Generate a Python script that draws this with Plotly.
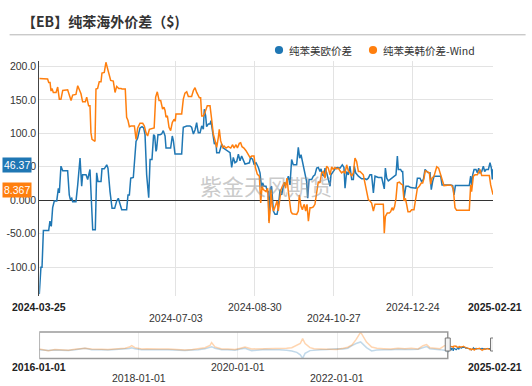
import pandas as pd
import plotly.graph_objects as go

W, H = 532, 386

# ---------------- data ----------------
title_text = "【EB】纯苯海外价差（$)"
name_eu = "纯苯美欧价差"
name_kr = "纯苯美韩价差-Wind"
watermark = "紫金天风期货"
start_date = "2024-03-25"
end_date = "2025-02-21"
hist_start = "2016-01-01"

# main window: days since 2024-03-25 and values
eu_days = [0, 1.2, 2, 3, 6.9, 7.8, 8.8, 9.8, 11, 12.8, 14, 14.7, 15.9, 17.2, 20.8, 22, 22.8, 23.8, 24.5, 26.9,
           28.2, 29.9, 31.1, 31.8, 34.3, 35.5, 37.2, 37.9, 38.7, 39.2, 41.1, 42.1, 43.1, 45.3, 46, 47.7, 49.5, 50.4,
           51.9, 53.4, 55.3, 56.8, 58, 59.2, 60.5, 64.1, 65.1, 66.1, 67.1, 69, 70.2, 71, 72.2, 73.9, 75.4, 76.6,
           77.6, 78.8, 80.3, 81.3, 82.7, 83.9, 84.7, 85.65, 86.1, 87.1, 88.6, 89.8, 91, 92.3, 93, 96.4, 97.6, 98.4,
           99.6, 104.5, 105.2, 105.7, 108.2, 110.6, 111.8, 113.1, 114.3, 115.5, 116, 116.7, 118, 119.2, 120.4,
           121.1, 122.1, 122.8, 124.1, 125.3, 126, 127, 127.7, 128.5, 129.7, 130.2, 132.1, 133.1, 133.9, 135.1,
           136.3, 138, 140, 141.2, 142.4, 143.6, 144.9, 146.1, 147.3, 148.5, 149.8, 151, 154.2, 155.1, 156.6,
           157.6, 159.1, 160.8, 162, 163.2, 163.9, 164.9, 166.4, 167.4, 168.1, 168.6, 169.6, 170.5, 171.8, 173,
           174.5, 175.4, 176.7, 177.9, 179.1, 180.3, 181.6, 182.8, 184, 185.2, 186.4, 188.9, 190.1, 191.1, 192.1,
           193.1, 194, 195, 196.2, 197, 198, 199.9, 201.1, 202.3, 203.6, 204.8, 206, 206.8, 207.7, 209, 209.7,
           210.9, 212.1, 213.4, 214.1, 215.8, 217.5, 219, 220.7, 222.4, 223.6, 224.4, 225.6, 226.8, 228, 229.3,
           230.5, 231.2, 232.2, 234.2, 236.6, 239, 240.3, 241.5, 242.7, 243.9, 245.2, 246.4, 248.8, 251.3, 253.2,
           254, 255, 256.2, 257.9, 259.4, 260.3, 261.8, 262.8, 263.5, 265.2, 266, 266.7, 267.7, 269.1, 270.9,
           272.6, 274.5, 276.5, 277.5, 279.4, 280.6, 281.9, 283.1, 284.3, 285.5, 286.8, 287.7, 288.7, 289.7,
           294.6, 295.6, 301.9, 303.4, 304.4, 305.4, 315.6, 316.6, 317.3, 318.1, 319.1, 320.5, 321.5, 322.5,
           323.5, 324.7, 325.9, 326.9, 327.9, 329.6, 330.8, 331.8, 332.5, 333]
eu_vals = [-140, -100, -100, -45, -45, -31, -39, -11, -1, -1, 18, 11, 51, 44, 44, 8, 1, 3, -2, -2,
           23, 63, 21, 38, 38, 31, 46, 13, -1, -44, -44, 41, 28, 28, 47, 47, 53, 48,
           13, -12, -12, -1, 3, -6, -14, -14, 8, 8, 33, 34, 73, 88, 93, 108, 110, 108,
           98, 38, 4, 61, 61, 98, 96, 73, 76, 98, 98, 99, 104, 96, 78, 78, 96, 89,
           69, 69, 94, 109, 111, 111, 109, 99, 105, 116, 109, 101, 101, 111, 106,
           136, 126, 110, 114, 114, 119, 106, 99, 84, 86, 71, 71, 81, 84, 78,
           76, 74, 71, 49, 64, 56, 58, 69, 59, 66, 61, 54, 56, 64, 61,
           54, 56, 49, 41, 18, 26, 21, 21, 13, 13, -31, 18, 21, -16, -21,
           -21, -11, 16, 8, 21, 23, 28, 36, 23, 61, 53, 53, 79, 63, 68,
           58, 54, 41, 28, 3, 31, 31, 36, 38, 48, 49, 43, 47, 38, 36, 48,
           41, 33, 21, 38, 43, 48, 49, 48, 53, 49, 18, 43, 38, 51, 31,
           31, 51, 41, 36, 32, 32, 31, 33, 38, 38, 11, 36, 34, 34, 17,
           48, 33, 29, 32, 34, 36, 38, 66, 46, 46, 43, 43, 3, 21, 21,
           19, 18, 18, 33, 33, 28, 31, 46, 43, 41, 41, 16, 28, 36,
           36, 23, 23, 22, 8, 22, 22, 36, 23, 38, 46, 46, 41, 48,
           41, 43, 51, 43, 46, 46, 56, 48, 31, 46.37]

kr_days = [0, 6.1, 6.9, 7.9, 8.6, 9.3, 10.3, 12.3, 13.5, 14.7, 15.9, 17.2, 20.8, 22, 23.3, 24.5, 26.9, 28.2,
           29.4, 30.6, 31.8, 33.8, 34.8, 36.2, 37.2, 37.9, 38.7, 40.9, 41.6, 42.8, 44, 45.3, 46, 47.7, 48.9,
           49.9, 50.9, 52.4, 54.3, 55.6, 56.8, 58.3, 60, 60.7, 63.1, 64.1, 65.1, 66.1, 67.3, 69.8, 71, 72.2,
           73.9, 75.9, 77.1, 78.3, 79.5, 80.8, 84.3, 85.4, 86.6, 87.9, 89.1, 90.5, 91.5, 92.3, 93, 94, 95.2,
           96.4, 97.6, 98.9, 99.8, 100.3, 104.5, 105.7, 106.9, 108.2, 109.4, 111.8, 113.1, 114.3, 115.5,
           117.5, 118.4, 119.2, 120.4, 121.6, 123.3, 125.3, 126.5, 127.7, 128.9, 130.2, 131.4, 132.1, 133.1,
           134.6, 135.6, 137, 138.7, 140.5, 141.9, 142.9, 144.4, 145.4, 146.8, 147.8, 148.8, 150.2, 151.7,
           153.4, 154.6, 155.9, 157.6, 158.6, 160, 161.5, 162.5, 163.5, 164.4, 166.4, 167.6, 168.6, 169.6,
           170, 171, 172, 173, 174.5, 175.4, 176.4, 177.4, 178.4, 179.8, 180.8, 181.8, 182.8, 183.8, 184.7,
           185.7, 188.9, 190.1, 190.8, 192.1, 193.1, 193.8, 194.5, 195.5, 196.5, 197.5, 198.7, 199.9, 201.1,
           202.3, 203.6, 204.8, 206, 207.2, 208.5, 209.7, 210.9, 212.1, 213.4, 214.6, 215.8, 217, 218.3,
           219.5, 220.7, 221.9, 223.1, 224.4, 225.6, 226.8, 228, 229.3, 230.5, 231.7, 232.9, 234.2, 235.4,
           236.6, 237.8, 239, 240.3, 241.5, 242.7, 243.9, 245.2, 246.4, 252.5, 253.2, 254, 255.4, 256.9,
           257.9, 258.9, 259.8, 260.8, 261.8, 262.8, 264.3, 265.7, 266.7, 267.7, 268.7, 269.6, 270.6, 272.1,
           273.3, 275, 276.2, 277.5, 278.9, 280.4, 281.4, 282.4, 283.3, 284.8, 286.3, 287.2, 288.2, 289.7,
           290.4, 291.7, 293.1, 294.1, 295.1, 296.1, 297, 301.4, 302.7, 303.9, 305.1, 306.3, 315.6, 316.6,
           317.3, 318.6, 319.8, 321.5, 322.5, 323.5, 324.7, 330.3, 331.3, 332.3, 333]
kr_vals = [182, 181, 176, 176, 163, 167, 161, 161, 169, 151, 151, 164, 165, 157, 149, 157, 158, 171,
           164, 159, 147, 147, 154, 141, 141, 101, 91, 88, 166, 167, 177, 177, 190, 191, 206,
           199, 189, 179, 178, 161, 170, 167, 167, 166, 166, 124, 119, 110, 111, 111, 91, 108,
           115, 115, 111, 101, 96, 106, 108, 154, 162, 149, 149, 136, 139, 134, 124, 126, 109,
           104, 116, 121, 118, 129, 129, 151, 160, 162, 155, 155, 164, 168, 161,
           153, 153, 126, 126, 131, 141, 141, 121, 99, 90, 79, 94, 106, 89,
           79, 81, 78, 80, 78, 83, 78, 83, 78, 85, 86, 80, 78, 74,
           69, 64, 66, 66, 49, 39, 36, -4, 21, 16, 13, 18, -34, -11,
           16, -9, -16, -11, -1, -16, 3, 16, 21, 27, 18, 33, 13, -6, -17,
           -20, -21, -16, 8, -9, -14, -9, -6, -16, -6, -31, -11, -11, -10,
           -6, 11, 28, 26, 41, 43, 33, 51, 48, 38, 50, 46, 49, 47,
           48, 44, 41, 43, 41, 53, 44, 41, 36, 41, 63, 58, 43, 43,
           41, 38, 26, 13, 1, -1, -4, -16, -6, -6, -49, -24, -19, -19,
           -17, -11, -15, -9, 3, 26, 27, 24, 23, -1, 3, -6, -17, -17,
           -14, -14, -1, 18, 21, 26, 26, 33, 44, 43, 41, 24, 33, 36,
           41, 50, 48, 41, 33, 26, 22, 23, 22, 16, -11, -15, -15, 23,
           13, 36, 38, 38, 43, 46, 37, 37, 23, 12, 8.367]

# full history (navigator)
hist_dates = ["2016-01-01", "2016-02-10", "2016-03-07", "2016-04-25", "2016-06-15", "2016-08-02", "2016-09-20",
              "2016-11-01", "2016-12-02", "2017-01-20", "2017-03-01", "2017-04-04", "2017-05-20", "2017-07-11",
              "2017-08-20", "2017-09-23", "2017-10-25", "2017-11-11", "2017-12-05", "2018-01-23", "2018-03-01",
              "2018-04-07", "2018-06-01", "2018-08-07", "2018-10-15", "2018-12-08", "2019-02-01", "2019-03-16",
              "2019-05-04", "2019-06-10", "2019-06-22", "2019-07-17", "2019-09-04", "2019-10-20", "2019-12-11",
              "2020-01-20", "2020-02-23", "2020-04-12", "2020-06-12", "2020-07-19", "2020-09-15", "2020-11-01",
              "2020-12-25", "2021-02-01", "2021-03-10", "2021-04-05", "2021-04-22", "2021-05-10", "2021-06-15",
              "2021-07-15", "2021-09-01", "2021-10-20", "2021-12-28", "2022-02-15", "2022-03-20", "2022-04-20",
              "2022-05-20", "2022-06-23", "2022-07-12", "2022-08-05", "2022-09-12", "2022-10-20", "2022-12-10",
              "2023-02-01", "2023-03-25", "2023-05-15", "2023-07-01", "2023-08-20", "2023-09-25", "2023-10-21",
              "2023-11-14", "2023-12-20", "2024-01-28", "2024-03-01", "2024-03-25"]
hist_kr = [25, -20, -60, 0, -20, -35, 10, 30, 65, 20, 30, 15, 0, 25, 40, 65, 120, 190, 90, 25, 30,
           15, 20, 25, 0, -25, 0, 25, 90, 200, 350, 125, 25, 20, 0, 60, 125, 25, 25, 60, 25, 40,
           60, 90, 200, 310, 550, 300, 90, 40, 25, 30, 0, 60, 110, 225, 500, 875, 625, 375, 125, 60, 40,
           25, 60, 40, 60, 25, 190, 250, 90, 60, 40, 190, 182]
hist_eu = [-20, -40, -60, -30, -45, -50, -20, 10, 60, -10, 0, -20, -30, -10, 0, 20, 50, 80, 30, -20, -10,
           -25, -20, -10, -40, -60, -30, -20, 30, 90, 140, 60, -10, -20, -40, 20, 60, -60, -25, 0, -20, -10,
           -40, -75, -150, -275, -450, -200, -60, -30, -20, 0, 40, 20, 60, 190, 300, 380, 250, 90, -75, -30, -10,
           -20, 10, -10, 0, 15, 90, 150, 40, 0, -10, -40, -140]

main_ticks = ["2024-07-03", "2024-08-30", "2024-10-27", "2024-12-24"]
nav_ticks = ["2018-01-01", "2020-01-01", "2022-01-01"]
y_ticks = [-100, -50, 0, 50, 100, 150, 200]
y_ticktext = ["-100.0", "-50.00", "0.000", "50.00", "100.0", "150.0", "200.0"]

# ---------------- styling ----------------
BLUE = "#1f77b4"
ORANGE = "#ff7f0e"
FONT = "Liberation Sans, Arial, sans-serif"
CJK = "Noto Sans CJK SC, sans-serif"


def px(x):
    return x / W


def py(y):
    return 1 - y / H


t0 = pd.Timestamp(start_date)
eu_x = t0 + pd.to_timedelta(eu_days, unit="D")
kr_x = t0 + pd.to_timedelta(kr_days, unit="D")
hx = pd.to_datetime(hist_dates)

fig = go.Figure()
# main chart
fig.add_trace(go.Scatter(x=eu_x, y=eu_vals, mode="lines", line=dict(color=BLUE, width=1.5),
                         name=name_eu, showlegend=False, xaxis="x", yaxis="y"))
fig.add_trace(go.Scatter(x=kr_x, y=kr_vals, mode="lines", line=dict(color=ORANGE, width=1.5),
                         name=name_kr, showlegend=False, xaxis="x", yaxis="y"))
# navigator
fig.add_trace(go.Scatter(x=hx, y=hist_eu, mode="lines", line=dict(color="rgba(31,119,180,0.28)", width=1.5),
                         showlegend=False, xaxis="x2", yaxis="y2"))
fig.add_trace(go.Scatter(x=hx, y=hist_kr, mode="lines", line=dict(color="rgba(255,127,14,0.33)", width=1.5),
                         showlegend=False, xaxis="x2", yaxis="y2"))
fig.add_trace(go.Scatter(x=eu_x, y=eu_vals, mode="lines", line=dict(color=BLUE, width=1.2),
                         showlegend=False, xaxis="x2", yaxis="y2"))
fig.add_trace(go.Scatter(x=kr_x, y=kr_vals, mode="lines", line=dict(color=ORANGE, width=1.2),
                         showlegend=False, xaxis="x2", yaxis="y2"))

X0, X1 = 39.3, 493
fig.update_layout(
    width=W, height=H, autosize=False,
    margin=dict(l=0, r=0, t=0, b=0),
    paper_bgcolor="white", plot_bgcolor="white",
    showlegend=False,
    font=dict(family=FONT, size=11, color="#333"),
    xaxis=dict(domain=[px(X0), px(X1)], anchor="y", type="date",
               range=[start_date, end_date], tickvals=main_ticks, showticklabels=False,
               showgrid=True, gridcolor="#e3e3e3", gridwidth=1, ticks="", showline=False, zeroline=False),
    yaxis=dict(domain=[py(296.3), py(61.3)], anchor="x", range=[-143.3, 207.5],
               tickvals=y_ticks, ticktext=y_ticktext, tickfont=dict(size=10.5, color="#333", family=FONT),
               showgrid=True, gridcolor="#e3e3e3", gridwidth=1, ticks="",
               showline=True, linecolor="#444", linewidth=1,
               zeroline=True, zerolinecolor="#333", zerolinewidth=1),
    xaxis2=dict(domain=[px(X0), px(X1)], anchor="y2", type="date",
                range=[hist_start, end_date], tickvals=nav_ticks, showticklabels=False,
                showgrid=True, gridcolor="#ececec", ticks="", showline=False, zeroline=False),
    yaxis2=dict(domain=[py(358.5), py(332)], anchor="x2", range=[-460, 885],
                showticklabels=False, showgrid=False, zeroline=False, showline=False, ticks=""),
)

shapes = []
# rule under title
shapes.append(dict(type="line", xref="paper", yref="paper", x0=px(9.6), x1=px(525.6), y0=py(34.8), y1=py(34.8),
                   line=dict(color="#b4b4b4", width=1)))
# legend dots
for cx, col in [(279, BLUE), (373, ORANGE)]:
    shapes.append(dict(type="circle", xref="paper", yref="paper", x0=px(cx - 4.1), x1=px(cx + 4.1),
                       y0=py(50 + 4.1), y1=py(50 - 4.1), fillcolor=col, line=dict(width=0)))
# navigator mask box (unselected history)
shapes.append(dict(type="rect", xref="x2", yref="paper", x0=hist_start, x1=start_date,
                   y0=py(358.5), y1=py(332), line=dict(color="#9a9a9a", width=1.5), fillcolor="rgba(0,0,0,0)"))
# navigator handles
for d in [start_date, end_date]:
    shapes.append(dict(type="rect", xref="x2", yref="paper", xsizemode="pixel", xanchor=d, x0=-2.5, x1=2.5,
                       y0=py(351), y1=py(338), fillcolor="#f2f2f2", line=dict(color="#777", width=1)))
fig.update_layout(shapes=shapes)

ann = []
ann.append(dict(text="<b>" + title_text + "</b>", xref="paper", yref="paper", x=px(20), y=py(21),
                xanchor="left", yanchor="middle", showarrow=False,
                font=dict(family=CJK, size=14, color="#333")))
ann.append(dict(text=name_eu, xref="paper", yref="paper", x=px(287), y=py(50), xanchor="left", yanchor="middle",
                showarrow=False, font=dict(family=CJK, size=10.5, color="#333")))
ann.append(dict(text=name_kr, xref="paper", yref="paper", x=px(381), y=py(50), xanchor="left", yanchor="middle",
                showarrow=False, font=dict(family=CJK, size=10.5, color="#333")))
# watermark
ann.append(dict(text=watermark, xref="paper", yref="paper", x=px(265.8), y=py(185), xanchor="center",
                yanchor="middle", showarrow=False, font=dict(family=CJK, size=22, color="rgba(150,150,150,0.5)")))
# last-value tags
for val, col in [(eu_vals[-1], BLUE), (kr_vals[-1], ORANGE)]:
    ann.append(dict(text=f"{val:.4g}", xref="paper", yref="y", x=px(32), y=val, yshift=4.5,
                    xanchor="right", yanchor="middle", showarrow=False, bgcolor=col, borderpad=1,
                    font=dict(family=FONT, size=10.5, color="white")))
# main x labels
ROW1, ROW2 = py(307), py(318)
ann.append(dict(text="<b>" + start_date + "</b>", xref="x", yref="paper", x=start_date, y=ROW1,
                xanchor="center", yanchor="middle", showarrow=False, font=dict(size=10.5, color="#222")))
ann.append(dict(text="<b>" + end_date + "</b>", xref="x", yref="paper", x=end_date, y=ROW1, xshift=2,
                xanchor="center", yanchor="middle", showarrow=False, font=dict(size=10.5, color="#222")))
for i, d in enumerate(main_ticks):
    ann.append(dict(text=d, xref="x", yref="paper", x=d, y=ROW2 if i % 2 == 0 else ROW1,
                    xanchor="center", yanchor="middle", showarrow=False, font=dict(size=10.5, color="#333")))
# navigator labels
NR1, NR2 = py(366.5), py(377.5)
ann.append(dict(text="<b>" + hist_start + "</b>", xref="x2", yref="paper", x=hist_start, y=NR1,
                xanchor="center", yanchor="middle", showarrow=False, font=dict(size=10.5, color="#222")))
ann.append(dict(text="<b>" + end_date + "</b>", xref="x2", yref="paper", x=end_date, y=NR1, xshift=2,
                xanchor="center", yanchor="middle", showarrow=False, font=dict(size=10.5, color="#222")))
for i, d in enumerate(nav_ticks):
    ann.append(dict(text=d, xref="x2", yref="paper", x=d, y=NR2 if i % 2 == 0 else NR1,
                    xanchor="center", yanchor="middle", showarrow=False, font=dict(size=10.5, color="#333")))
fig.update_layout(annotations=ann)

fig.write_html("out.html", config={"displayModeBar": False},
               post_script="document.body.style.margin='0px';document.body.style.overflow='hidden';")
